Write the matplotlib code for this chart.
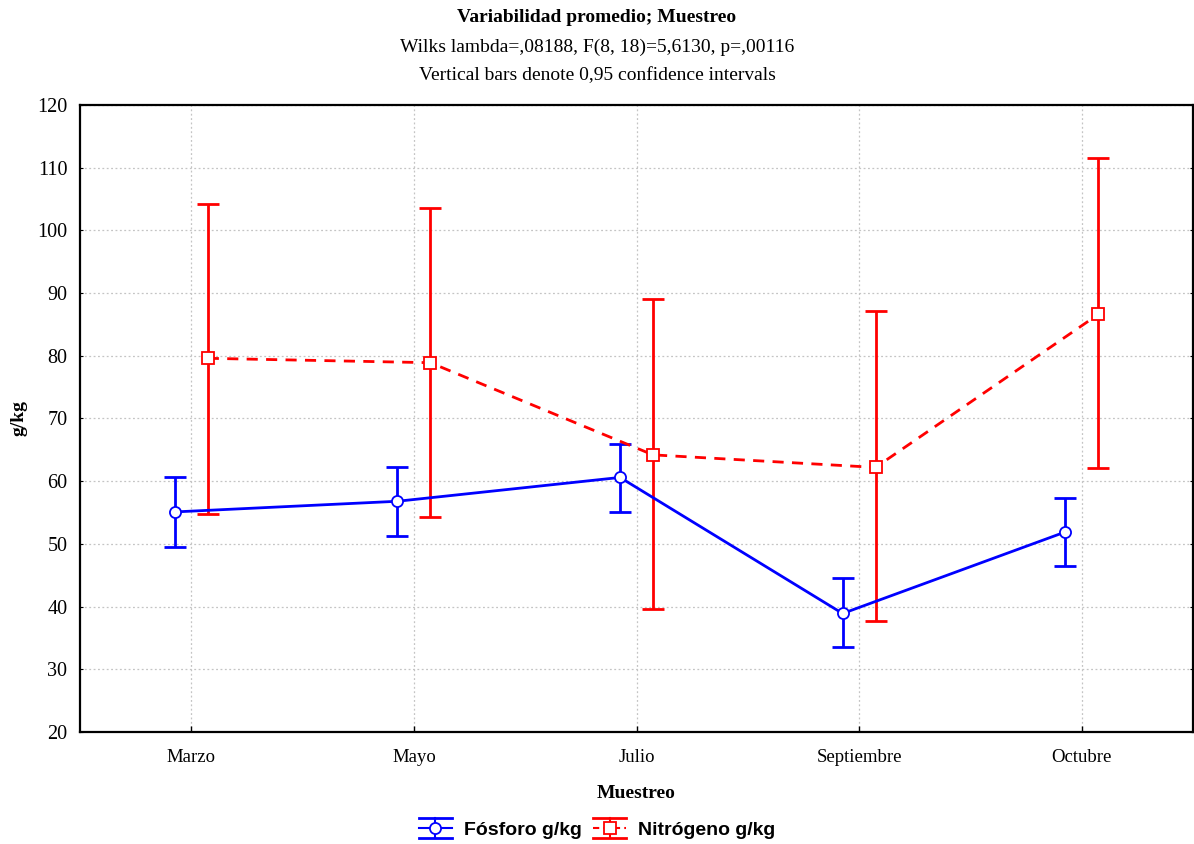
import matplotlib
matplotlib.use("Agg")
import matplotlib.pyplot as plt
import numpy as np
from matplotlib.lines import Line2D
from matplotlib.legend_handler import HandlerBase

categories = ["Marzo", "Mayo", "Julio", "Septiembre", "Octubre"]
fosforo_mean = [55.1, 56.8, 60.6, 38.9, 51.9]
fosforo_low = [49.5, 51.2, 55.1, 33.5, 46.4]
fosforo_high = [60.6, 62.3, 66.0, 44.5, 57.4]
nitrogeno_mean = [79.6, 78.9, 64.2, 62.2, 86.6]
nitrogeno_low = [54.8, 54.3, 39.6, 37.7, 62.1]
nitrogeno_high = [104.2, 103.6, 89.0, 87.1, 111.5]
yticks = [20, 30, 40, 50, 60, 70, 80, 90, 100, 110, 120]

BLUE = "#0000FF"
RED = "#FF0000"
serif = ["Liberation Serif", "DejaVu Serif"]
sans = ["Liberation Sans", "DejaVu Sans"]

W, H = 1194, 844
fig = plt.figure(figsize=(W / 100, H / 100), dpi=100)
ax = fig.add_axes([80 / W, 1 - 732 / H, (1193 - 80) / W, (732 - 105) / H])

x = np.arange(len(categories))
off = 0.074
xb = x - off
xr = x + off

fm = np.array(fosforo_mean)
nm = np.array(nitrogeno_mean)
ferr = [fm - np.array(fosforo_low), np.array(fosforo_high) - fm]
nerr = [nm - np.array(nitrogeno_low), np.array(nitrogeno_high) - nm]

ax.errorbar(xb, fm, yerr=ferr, fmt="none", ecolor=BLUE, elinewidth=2, capsize=8, capthick=2, zorder=3)
ax.plot(xb, fm, color=BLUE, lw=2, zorder=4)
ax.plot(xb, fm, ls="none", marker="o", ms=8, mfc="white", mec=BLUE, mew=1.3, zorder=5)

ax.errorbar(xr, nm, yerr=nerr, fmt="none", ecolor=RED, elinewidth=2, capsize=8, capthick=2, zorder=3)
ax.plot(xr, nm, color=RED, lw=2, ls=(0, (4, 3)), zorder=4)
ax.plot(xr, nm, ls="none", marker="s", ms=8, mfc="white", mec=RED, mew=1.3, zorder=5)

ax.set_xlim(-0.5, len(categories) - 0.5)
ax.set_ylim(20, 120)
ax.set_yticks(yticks)
ax.set_xticks(x)
ax.set_xticklabels(categories, fontfamily=serif, fontsize=13.5)
for lab in ax.get_yticklabels():
    lab.set_fontfamily(serif)
    lab.set_fontsize(14.5)
ax.tick_params(axis="x", direction="in", length=4, width=1, pad=12)
ax.tick_params(axis="y", direction="in", length=0, pad=9)
ax.tick_params(axis="y", which="both", right=True, length=2)
ax.grid(True, color="#c4c4c4", ls=(0, (1.5, 2)), lw=0.9)
ax.set_axisbelow(True)
for s in ax.spines.values():
    s.set_linewidth(1.6)
    s.set_color("black")

ax.set_ylabel("g/kg", fontfamily=serif, fontweight="bold", fontsize=14)
ax.yaxis.set_label_coords((27 - 80) / (1193 - 80), 0.5)
ax.set_xlabel("Muestreo", fontfamily=serif, fontweight="bold", fontsize=14, labelpad=14)

fig.text(0.5, 1 - 18 / H, "Variabilidad promedio; Muestreo", ha="center", va="center",
         fontfamily=serif, fontweight="bold", fontsize=14)
fig.text(0.5, 1 - 47 / H, "Wilks lambda=,08188, F(8, 18)=5,6130, p=,00116", ha="center", va="center",
         fontfamily=serif, fontsize=14)
fig.text(0.5, 1 - 76 / H, "Vertical bars denote 0,95 confidence intervals", ha="center", va="center",
         fontfamily=serif, fontsize=14)


class ErrHandler(HandlerBase):
    def __init__(self, color, marker, dashed=False):
        super().__init__()
        self.color = color
        self.marker = marker
        self.dashed = dashed

    def create_artists(self, legend, orig_handle, xdescent, ydescent, width, height, fontsize, trans):
        x0 = -xdescent
        x1 = x0 + width
        cx = (x0 + x1) / 2
        y0 = -ydescent - 2
        y1 = y0 + height + 4
        cy = (y0 + y1) / 2
        ls = (0, (3, 2)) if self.dashed else "-"
        arts = [
            Line2D([x0, x1], [y1, y1], color=self.color, lw=2),
            Line2D([x0, x1], [y0, y0], color=self.color, lw=2),
            Line2D([x0, x1], [cy, cy], color=self.color, lw=1.5, ls=ls),
            Line2D([cx, cx], [y0, y1], color=self.color, lw=1.5),
            Line2D([cx], [cy], color=self.color, marker=self.marker, ms=8, mfc="white",
                   mec=self.color, mew=1.3, ls="none"),
        ]
        for a in arts:
            a.set_transform(trans)
        return arts


h1 = Line2D([], [], color=BLUE)
h2 = Line2D([], [], color=RED)
leg = fig.legend([h1, h2], ["Fósforo g/kg", "Nitrógeno g/kg"],
                 handler_map={h1: ErrHandler(BLUE, "o"), h2: ErrHandler(RED, "s", True)},
                 loc="center", bbox_to_anchor=(0.5, 1 - 830 / H), ncol=2, frameon=False,
                 prop={"family": sans, "weight": "bold", "size": 14},
                 handlelength=1.7, handletextpad=0.6, columnspacing=0.6)

fig.savefig("out.png", dpi=100)
